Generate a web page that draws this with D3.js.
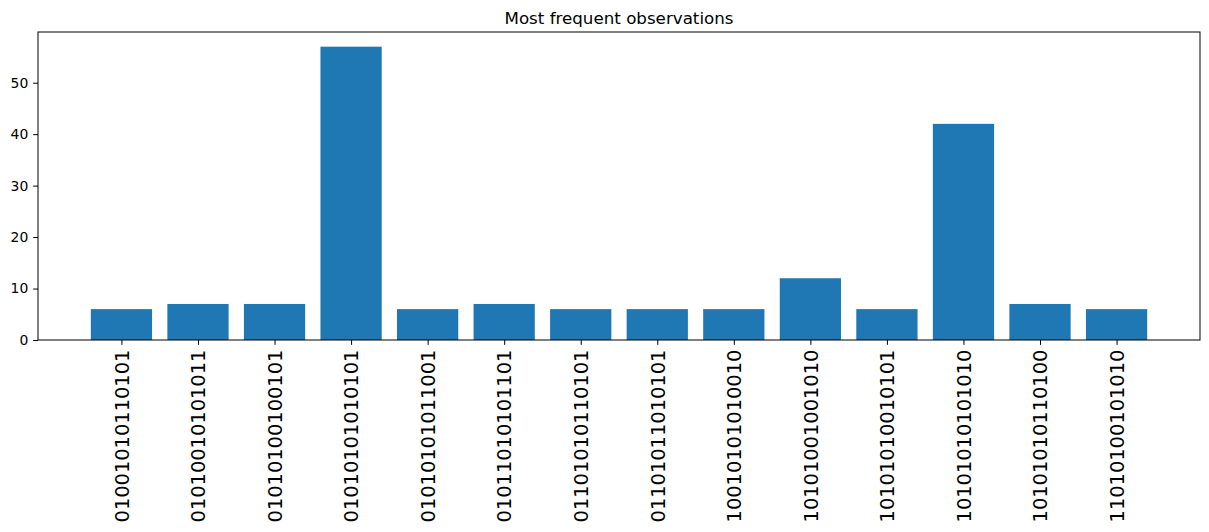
<!DOCTYPE html>
<html>
<head>
<meta charset="utf-8">
<script src="https://cdn.jsdelivr.net/npm/d3@7"></script>
<style>
  body { margin: 0; background: #fff; }
  text { font-family: "DejaVu Sans", sans-serif; fill: #000; }
</style>
</head>
<body>
<div id="svganchor"></div>
<script>
// observed bitstrings and how often they appeared
let labels = [
  "01001010110101", "01010010101011", "01010100100101", "01010101010101",
  "01010101011001", "01011010101101", "01101010110101", "01101011010101",
  "10010101010010", "10101001001010", "10101010010101", "10101010101010",
  "10101010110100", "11010100101010"
];
let counts = [6, 7, 7, 57, 6, 7, 6, 6, 6, 12, 6, 42, 7, 6];
let yTicks = [0, 10, 20, 30, 40, 50];

let width = 1209;
let height = 532;
let margin = { top: 32, right: 9, bottom: 192, left: 38 };

let svg = d3.select("#svganchor").append("svg").attr("width", width).attr("height", height);

// matplotlib style: bar width 0.8, 5% margins
let n = labels.length;
let span = (n - 1) + 0.8;
let pad = span * 0.05;
let xScale = d3.scaleLinear()
  .domain([-0.4 - pad, n - 1 + 0.4 + pad])
  .range([margin.left, width - margin.right]);

let yScale = d3.scaleLinear()
  .domain([0, d3.max(counts) * 1.05])
  .range([height - margin.bottom, margin.top]);

// bars
svg.selectAll(".bar")
  .data(counts)
  .enter()
  .append("rect")
  .attr("class", "bar")
  .attr("x", function (d, i) { return xScale(i - 0.4); })
  .attr("width", function (d, i) { return xScale(i + 0.4) - xScale(i - 0.4); })
  .attr("y", function (d) { return yScale(d); })
  .attr("height", function (d) { return yScale(0) - yScale(d); })
  .attr("fill", "#1f77b4");

// y axis
let yAxis = svg.append("g")
  .attr("transform", "translate(" + margin.left + ",0)")
  .call(d3.axisLeft(yScale).tickValues(yTicks).tickSize(4.86).tickPadding(4.86));
yAxis.select(".domain").remove();
yAxis.selectAll("text").style("font-size", "13.9px").style("font-family", "DejaVu Sans");
yAxis.selectAll("line").attr("stroke", "#000").attr("stroke-width", 1);

// x axis with rotated labels
let xAxis = svg.append("g")
  .attr("transform", "translate(0," + yScale(0) + ")")
  .call(d3.axisBottom(xScale).tickValues(d3.range(n)).tickFormat(function (d) { return labels[d]; })
    .tickSize(4.86).tickPadding(4.86));
xAxis.select(".domain").remove();
xAxis.selectAll("line").attr("stroke", "#000").attr("stroke-width", 1);
xAxis.selectAll("text")
  .style("font-size", "19.4px")
  .style("font-family", "DejaVu Sans")
  .attr("text-anchor", "end")
  .attr("transform", "rotate(-90)")
  .attr("y", 0)
  .attr("x", -9.7)
  .attr("dy", "0.35em");

// frame
svg.append("rect")
  .attr("x", margin.left)
  .attr("y", margin.top)
  .attr("width", width - margin.right - margin.left)
  .attr("height", height - margin.bottom - margin.top)
  .attr("fill", "none")
  .attr("stroke", "#000")
  .attr("stroke-width", 1);

// title
svg.append("text")
  .attr("x", (margin.left + width - margin.right) / 2)
  .attr("y", margin.top - 8.3)
  .attr("text-anchor", "middle")
  .style("font-size", "16.7px")
  .text("Most frequent observations");
</script>
</body>
</html>
